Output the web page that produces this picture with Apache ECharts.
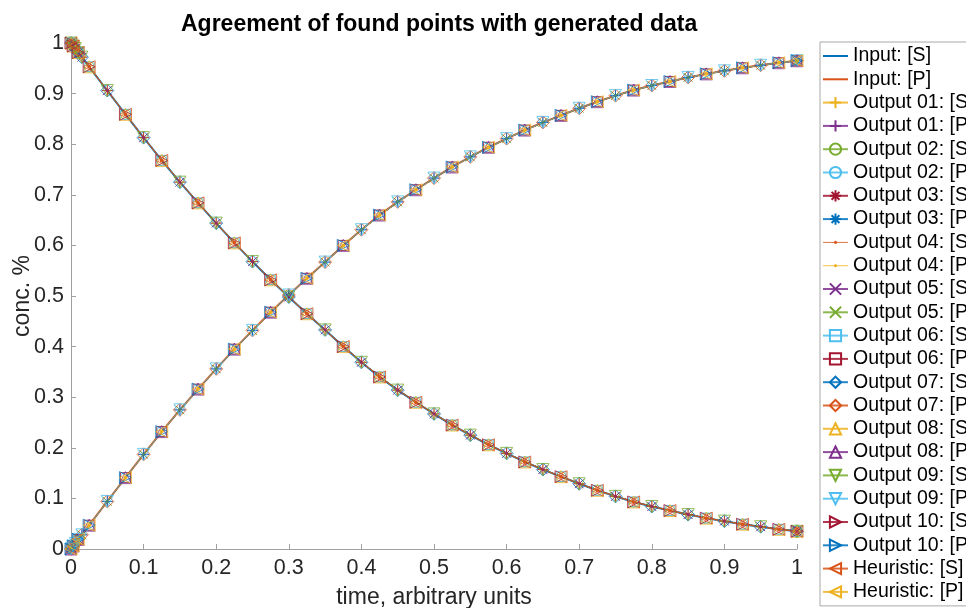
<!DOCTYPE html>
<html>
<head>
<meta charset="utf-8">
<script src="https://cdn.jsdelivr.net/npm/echarts@6/dist/echarts.min.js"></script>
<style>
  html, body { margin: 0; padding: 0; background: #fff; }
  #chart { width: 966px; height: 608px; }
</style>
</head>
<body>
<div id="chart"></div>
<script>
// time points of the generated curves
var timeGrid = [0, 0.003, 0.006, 0.01, 0.015, 0.025, 0.05, 0.075, 0.1, 0.125, 0.15, 0.175, 0.2, 0.225, 0.25,
  0.275, 0.3, 0.325, 0.35, 0.375, 0.4, 0.425, 0.45, 0.475, 0.5, 0.525, 0.55, 0.575, 0.6, 0.625, 0.65,
  0.675, 0.7, 0.725, 0.75, 0.775, 0.8, 0.825, 0.85, 0.875, 0.9, 0.925, 0.95, 0.975, 1];
var inputS = [1, 0.994, 0.989, 0.981, 0.972, 0.953, 0.906, 0.859, 0.813, 0.768, 0.725, 0.684, 0.644, 0.605, 0.568,
  0.532, 0.498, 0.465, 0.433, 0.400, 0.369, 0.340, 0.314, 0.290, 0.267, 0.245, 0.225, 0.206, 0.189, 0.172, 0.157,
  0.143, 0.129, 0.116, 0.104, 0.093, 0.084, 0.076, 0.068, 0.061, 0.055, 0.049, 0.044, 0.039, 0.035];
var inputP = [0, 0.006, 0.011, 0.019, 0.028, 0.047, 0.094, 0.141, 0.187, 0.232, 0.275, 0.316, 0.356, 0.395, 0.432,
  0.468, 0.502, 0.535, 0.567, 0.600, 0.631, 0.660, 0.686, 0.710, 0.733, 0.755, 0.775, 0.794, 0.811, 0.828, 0.843,
  0.857, 0.871, 0.884, 0.896, 0.907, 0.916, 0.924, 0.932, 0.939, 0.945, 0.951, 0.956, 0.961, 0.965];

// which time points each found-points series hits (indices into timeGrid)
var sampleEven = [0, 1, 2, 3, 4, 6, 8, 10, 12, 14, 16, 18, 20, 22, 24, 26, 28, 30, 32, 34, 36, 38, 40, 42, 44];
var sampleOdd = [0, 1, 3, 5, 7, 9, 11, 13, 15, 17, 19, 21, 23, 25, 27, 29, 31, 33, 35, 37, 39, 41, 43, 44];

var outputNames = ['Output 01', 'Output 02', 'Output 03', 'Output 04', 'Output 05', 'Output 06',
  'Output 07', 'Output 08', 'Output 09', 'Output 10', 'Heuristic'];
var outputMarkers = ['+', 'o', '*', '.', 'x', 's', 'd', '^', 'v', '>', '<'];
var outputSamples = [sampleEven, sampleOdd, sampleEven, sampleOdd, sampleEven, sampleOdd,
  sampleEven, sampleOdd, sampleEven, sampleOdd, sampleOdd];

var tickLabels = ['0', '0.1', '0.2', '0.3', '0.4', '0.5', '0.6', '0.7', '0.8', '0.9', '1'];

// matlab default color order
var colorOrder = ['#0072BD', '#D95319', '#EDB120', '#7E2F8E', '#77AC30', '#4DBEEE', '#A2142F'];

var markerDefs = {
  '+': { symbol: 'path://M5,0L5,10M0,5L10,5', size: 11, rotate: 0 },
  'o': { symbol: 'circle', size: 10, rotate: 0 },
  '*': { symbol: 'path://M5,0L5,10M0,5L10,5M1.5,1.5L8.5,8.5M8.5,1.5L1.5,8.5', size: 11, rotate: 0 },
  '.': { symbol: 'circle', size: 4, rotate: 0, filled: true },
  'x': { symbol: 'path://M0,0L10,10M10,0L0,10', size: 9, rotate: 0 },
  's': { symbol: 'rect', size: 10, rotate: 0 },
  'd': { symbol: 'diamond', size: 13, rotate: 0 },
  '^': { symbol: 'triangle', size: 12, rotate: 0 },
  'v': { symbol: 'triangle', size: 12, rotate: 180 },
  '>': { symbol: 'triangle', size: 12, rotate: -90 },
  '<': { symbol: 'triangle', size: 12, rotate: 90 }
};
// legend icon for the '.' marker: a line with a small dot in the middle
var dotLegendIcon = 'path://M0,7L25,7M11.3,7a1.2,1.2 0 1,0 2.4,0a1.2,1.2 0 1,0 -2.4,0';

function pairs(values, idx) {
  var out = [];
  for (var i = 0; i < idx.length; i++) {
    out.push([timeGrid[idx[i]], values[idx[i]]]);
  }
  return out;
}

var allIdx = timeGrid.map(function (t, i) { return i; });
var series = [];
var legendData = [];
var colorIdx = 0;

function inputSeries(name, values) {
  var c = colorOrder[colorIdx++ % 7];
  series.push({
    name: name,
    type: 'line',
    symbol: 'none',
    clip: false,
    lineStyle: { color: c, width: 2 },
    // transparent so the legend shows only the line
    itemStyle: { color: 'rgba(255,255,255,0)', borderWidth: 0 },
    data: pairs(values, allIdx)
  });
  legendData.push(name);
}

function outputSeries(name, values, idx, mk) {
  var c = colorOrder[colorIdx++ % 7];
  var m = markerDefs[mk];
  series.push({
    name: name,
    type: 'line',
    symbol: m.symbol,
    symbolSize: m.size,
    symbolRotate: m.rotate,
    showAllSymbol: true,
    clip: false,
    lineStyle: { color: c, width: 0.7, opacity: 0.85 },
    itemStyle: m.filled
      ? { color: c, borderColor: c, borderWidth: 0 }
      : { color: 'rgba(255,255,255,0)', borderColor: c, borderWidth: 0.8 },
    data: pairs(values, idx)
  });
  if (m.filled) {
    legendData.push({ name: name, icon: dotLegendIcon, itemStyle: { color: c, borderColor: c, borderWidth: 0.8 } });
  } else {
    legendData.push(name);
  }
}

inputSeries('Input: [S]', inputS);
inputSeries('Input: [P]', inputP);
for (var k = 0; k < outputNames.length; k++) {
  outputSeries(outputNames[k] + ': [S]', inputS, outputSamples[k], outputMarkers[k]);
  outputSeries(outputNames[k] + ': [P]', inputP, outputSamples[k], outputMarkers[k]);
}

var chart = echarts.init(document.getElementById('chart'));

var axisCommon = {
  type: 'value',
  min: 0,
  max: 1,
  interval: 0.1,
  nameLocation: 'middle',
  nameMoveOverlap: false,
  nameTextStyle: { color: '#262626', fontSize: 23, fontFamily: 'Liberation Sans' },
  axisLine: { show: true, lineStyle: { color: '#a0a0a0', width: 1 } },
  axisTick: { show: true, inside: true, length: 5, lineStyle: { color: '#a0a0a0' } },
  splitLine: { show: false },
  axisLabel: {
    color: '#262626',
    fontSize: 21.5,
    fontFamily: 'Liberation Sans',
    formatter: function (v) { return tickLabels[Math.round(v * 10)]; }
  }
};

var option = {
  animation: false,
  backgroundColor: '#fff',
  title: {
    text: 'Agreement of found points with generated data',
    left: 176,
    top: 8,
    textStyle: { color: '#000', fontSize: 23, fontWeight: 'bold', fontFamily: 'Liberation Sans' }
  },
  grid: { left: 71, right: 169, top: 43, bottom: 59, containLabel: false, outerBoundsMode: 'none' },
  xAxis: Object.assign({}, axisCommon, {
    name: 'time, arbitrary units',
    nameGap: 37,
    axisLabel: Object.assign({}, axisCommon.axisLabel, { margin: 8 })
  }),
  yAxis: Object.assign({}, axisCommon, {
    name: 'conc. %',
    nameGap: 37,
    nameRotate: 90,
    axisLabel: Object.assign({}, axisCommon.axisLabel, { margin: 7 })
  }),
  legend: {
    orient: 'vertical',
    left: 820,
    top: 42,
    padding: [4, 4, 4, 2],
    itemWidth: 25,
    itemHeight: 14,
    itemGap: 3.3,
    selectedMode: false,
    backgroundColor: '#fff',
    borderColor: '#a8a8a8',
    borderWidth: 1,
    borderRadius: 0,
    textStyle: { color: '#000', fontSize: 19.5, lineHeight: 20, fontFamily: 'Liberation Sans' },
    data: legendData
  },
  series: series
};

chart.setOption(option);
</script>
</body>
</html>
